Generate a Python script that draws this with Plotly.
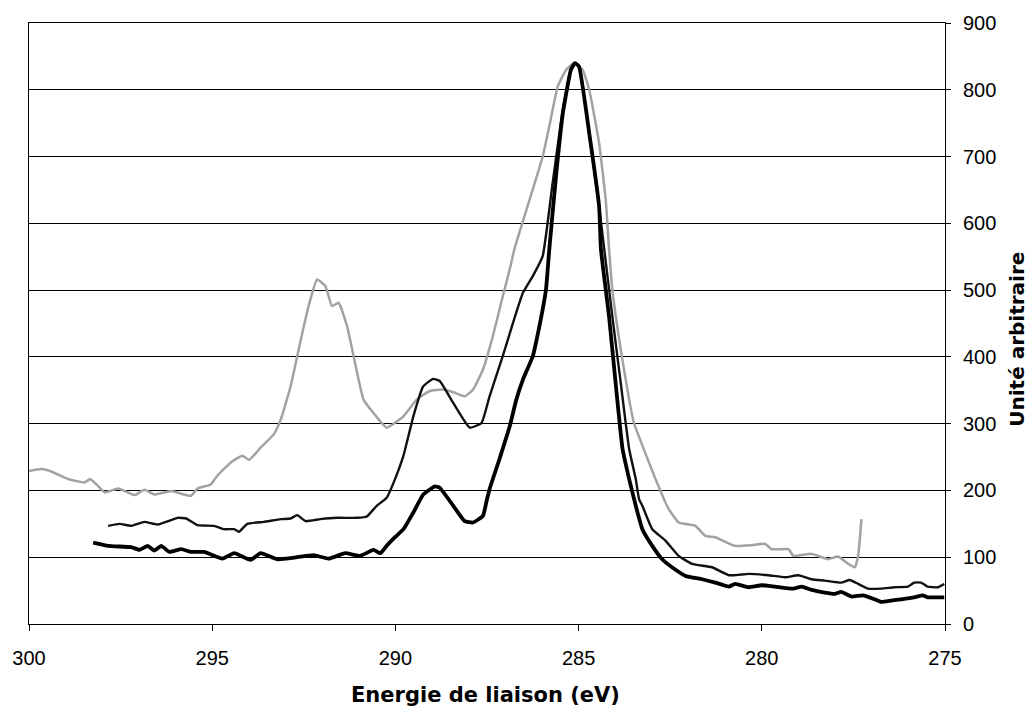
import plotly.graph_objects as go

# C 1s spectra: binding energy (eV) vs intensity (arbitrary units)
gray_energy = [300.00, 299.66, 299.38, 298.93, 298.48, 298.34, 298.16, 297.93, 297.57, 297.12,
               296.85, 296.58, 296.12, 295.58, 295.40, 295.04, 294.86, 294.49, 294.18, 293.99,
               293.68, 293.32, 293.13, 292.86, 292.68, 292.50, 292.32, 292.14, 291.91, 291.73,
               291.55, 291.32, 291.14, 290.87, 290.60, 290.24, 289.78, 289.42, 289.06, 288.70,
               288.42, 288.11, 287.88, 287.61, 287.34, 287.07, 286.88, 286.75, 286.34, 285.98,
               285.80, 285.57, 285.34, 285.12, 284.89, 284.71, 284.44, 284.26, 284.17, 284.08,
               283.85, 283.62, 283.49, 283.08, 282.90, 282.67, 282.54, 282.27, 281.81, 281.54,
               281.27, 280.73, 280.27, 279.91, 279.73, 279.27, 279.14, 278.64, 278.19, 277.92,
               277.69, 277.46, 277.37, 277.28]
gray_signal = [229, 232, 228, 217, 212, 217, 209, 197, 203, 193,
               201, 194, 199, 192, 203, 209, 222, 242, 252, 246,
               264, 284, 306, 356, 401, 446, 486, 516, 506, 476,
               481, 446, 401, 336, 316, 294, 311, 336, 349, 351,
               347, 341, 351, 381, 431, 491, 531, 562, 635, 700,
               745, 805, 830, 840, 830, 800, 720, 635, 563, 501,
               411, 336, 301, 242, 217, 187, 172, 152, 147, 132,
               130, 117, 118, 120, 112, 112, 102, 105, 97, 101,
               92, 85, 102, 157]

mid_energy = [297.84, 297.53, 297.21, 296.85, 296.49, 295.94, 295.71, 295.40, 294.95, 294.67,
              294.40, 294.27, 294.04, 293.59, 293.13, 292.86, 292.68, 292.45, 292.05, 291.59,
              291.05, 290.78, 290.51, 290.24, 290.01, 289.78, 289.51, 289.24, 288.97, 288.79,
              288.42, 287.97, 287.65, 287.43, 287.07, 286.79, 286.52, 286.25, 285.98, 285.71,
              285.43, 285.21, 285.10, 284.99, 284.71, 284.44, 284.30, 284.08, 283.85, 283.62,
              283.44, 283.35, 283.26, 282.99, 282.63, 282.27, 281.90, 281.36, 280.90, 280.36,
              279.82, 279.36, 279.00, 278.64, 278.28, 277.83, 277.60, 277.37, 277.10, 276.74,
              276.38, 276.01, 275.84, 275.65, 275.48, 275.20, 275.02]
mid_signal = [147, 150, 147, 153, 149, 159, 158, 148, 147, 142,
              142, 138, 150, 153, 157, 158, 163, 154, 157, 159,
              159, 161, 177, 189, 217, 252, 311, 356, 367, 364,
              331, 294, 301, 341, 401, 451, 496, 521, 551, 660,
              770, 830, 840, 835, 735, 625, 561, 461, 361, 262,
              217, 187, 177, 142, 125, 102, 90, 85, 73, 75,
              73, 70, 73, 67, 65, 62, 66, 60, 53, 53,
              55, 56, 62, 62, 56, 55, 60]

thick_energy = [298.25, 297.84, 297.21, 296.98, 296.76, 296.58, 296.39, 296.17, 295.85, 295.58,
                295.22, 294.72, 294.40, 293.95, 293.68, 293.22, 292.68, 292.23, 291.82, 291.37,
                290.96, 290.60, 290.41, 290.24, 290.01, 289.78, 289.51, 289.24, 288.92, 288.79,
                288.42, 288.11, 287.88, 287.61, 287.52, 287.43, 287.16, 286.88, 286.70, 286.52,
                286.25, 286.07, 285.89, 285.80, 285.60, 285.43, 285.21, 285.10, 284.99, 284.71,
                284.44, 284.39, 284.17, 283.99, 283.80, 283.62, 283.44, 283.26, 282.99, 282.72,
                282.45, 282.08, 281.63, 281.27, 280.90, 280.73, 280.36, 280.00, 279.64, 279.14,
                278.91, 278.64, 278.28, 278.01, 277.83, 277.55, 277.24, 276.92, 276.74, 276.47,
                276.20, 275.84, 275.61, 275.48, 275.02]
thick_signal = [122, 117, 115, 111, 117, 110, 117, 108, 112, 108,
                108, 98, 106, 96, 106, 97, 100, 103, 98, 106,
                102, 111, 106, 117, 130, 142, 167, 194, 206, 204,
                177, 154, 152, 162, 182, 202, 247, 296, 336, 366,
                401, 446, 501, 561, 680, 765, 830, 840, 835, 735,
                625, 561, 461, 361, 262, 217, 177, 142, 117, 97,
                85, 72, 67, 62, 56, 60, 55, 58, 56, 53,
                56, 51, 47, 45, 48, 41, 43, 37, 33, 35,
                37, 40, 43, 40, 40]

x_ticks = [300, 295, 290, 285, 280, 275]
y_ticks = [0, 100, 200, 300, 400, 500, 600, 700, 800, 900]

fig = go.Figure()
fig.add_trace(go.Scatter(x=gray_energy, y=gray_signal, mode="lines",
                         line=dict(color="#a2a2a2", width=2.5, shape="spline", smoothing=0.4)))
fig.add_trace(go.Scatter(x=mid_energy, y=mid_signal, mode="lines",
                         line=dict(color="#111111", width=2.4, shape="spline", smoothing=0.4)))
fig.add_trace(go.Scatter(x=thick_energy, y=thick_signal, mode="lines",
                         line=dict(color="#000000", width=3.8, shape="spline", smoothing=0.4)))

tick_font = dict(family="Liberation Sans", size=20, color="black")

fig.update_layout(
    width=1030, height=709,
    margin=dict(l=24, r=85, t=23, b=85),
    paper_bgcolor="white", plot_bgcolor="white",
    showlegend=False,
    xaxis=dict(range=[300, 275], tickvals=x_ticks, ticks="outside", ticklen=6,
               tickcolor="black", showgrid=False, zeroline=False,
               showline=True, linecolor="black", linewidth=1, mirror=True,
               tickfont=tick_font, ticklabelstandoff=10),
    yaxis=dict(range=[0, 900], tickvals=y_ticks, side="right", ticks="outside",
               ticklen=5, tickcolor="black", showgrid=True, gridcolor="black",
               gridwidth=1, zeroline=False, showline=True, linecolor="black",
               linewidth=1, mirror=True, tickfont=tick_font, ticklabelstandoff=8),
    annotations=[
        dict(text="<b>Energie de liaison (eV)</b>", xref="paper", yref="paper",
             x=0.498, y=-0.118, xanchor="center", yanchor="middle", showarrow=False,
             font=dict(family="DejaVu Sans", size=21, color="black")),
        dict(text="<b>Unité arbitraire</b>", xref="paper", yref="paper",
             x=1.0782, y=0.474, xanchor="center", yanchor="middle", showarrow=False,
             textangle=-90,
             font=dict(family="DejaVu Sans", size=20, color="black")),
    ],
)

fig.write_html("out.html")
